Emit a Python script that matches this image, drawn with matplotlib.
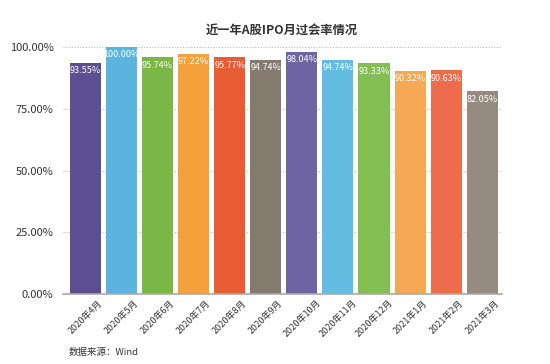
import matplotlib.pyplot as plt
from matplotlib.ticker import FuncFormatter

plt.rcParams['font.family'] = ['Noto Sans CJK SC', 'DejaVu Sans']

months = ["2020年4月", "2020年5月", "2020年6月", "2020年7月", "2020年8月", "2020年9月",
          "2020年10月", "2020年11月", "2020年12月", "2021年1月", "2021年2月", "2021年3月"]
rates = [93.55, 100.00, 95.74, 97.22, 95.77, 94.74, 98.04, 94.74, 93.33, 90.32, 90.63, 82.05]
colors = ["#5b4e91", "#5ab4de", "#7ab648", "#f4a03c", "#e85c33", "#857a6e",
          "#6f64a3", "#63bde3", "#83be54", "#f5a855", "#ec6c4d", "#968b80"]

fig = plt.figure(figsize=(5.5, 3.64), dpi=100)
ax = fig.add_axes([0.115, 0.192, 0.798, 0.679])

x = range(len(months))
bars = ax.bar(x, [r / 100 for r in rates], width=0.86, color=colors, zorder=2, clip_on=False)

for b, r in zip(bars, rates):
    ax.text(b.get_x() + b.get_width() / 2, b.get_height() - 0.014, "%.2f%%" % r,
            ha="center", va="top", color="white", fontsize=6.5, zorder=3)

ax.set_xlim(-0.61, 11.55)
ax.set_ylim(0, 1.0)
ax.set_yticks([0, 0.25, 0.5, 0.75, 1.0])
ax.yaxis.set_major_formatter(FuncFormatter(lambda v, p: "%.2f%%" % (v * 100)))
ax.yaxis.grid(True, linestyle=(0, (1, 1.5)), color="#bbbbbb", linewidth=0.8, zorder=0)
ax.set_xticks(list(x))
ax.set_xticklabels(months, rotation=45, ha="center", fontsize=6.5, color="#333333")
ax.tick_params(axis="y", length=0, labelsize=8, pad=7, labelcolor="#333333")
ax.tick_params(axis="x", length=0, pad=3)
for s in ["top", "right", "left"]:
    ax.spines[s].set_visible(False)
ax.spines["bottom"].set_color("#aaaaaa")
ax.spines["bottom"].set_linewidth(1.2)

fig.text(0.513, 0.915, "近一年A股IPO月过会率情况", ha="center", va="center", fontsize=8.8, fontweight="bold", color="#333333")
fig.text(0.124, 0.033, "数据来源：Wind", ha="left", va="center", fontsize=6.8, color="#333333")

plt.savefig("out.png", dpi=100)
